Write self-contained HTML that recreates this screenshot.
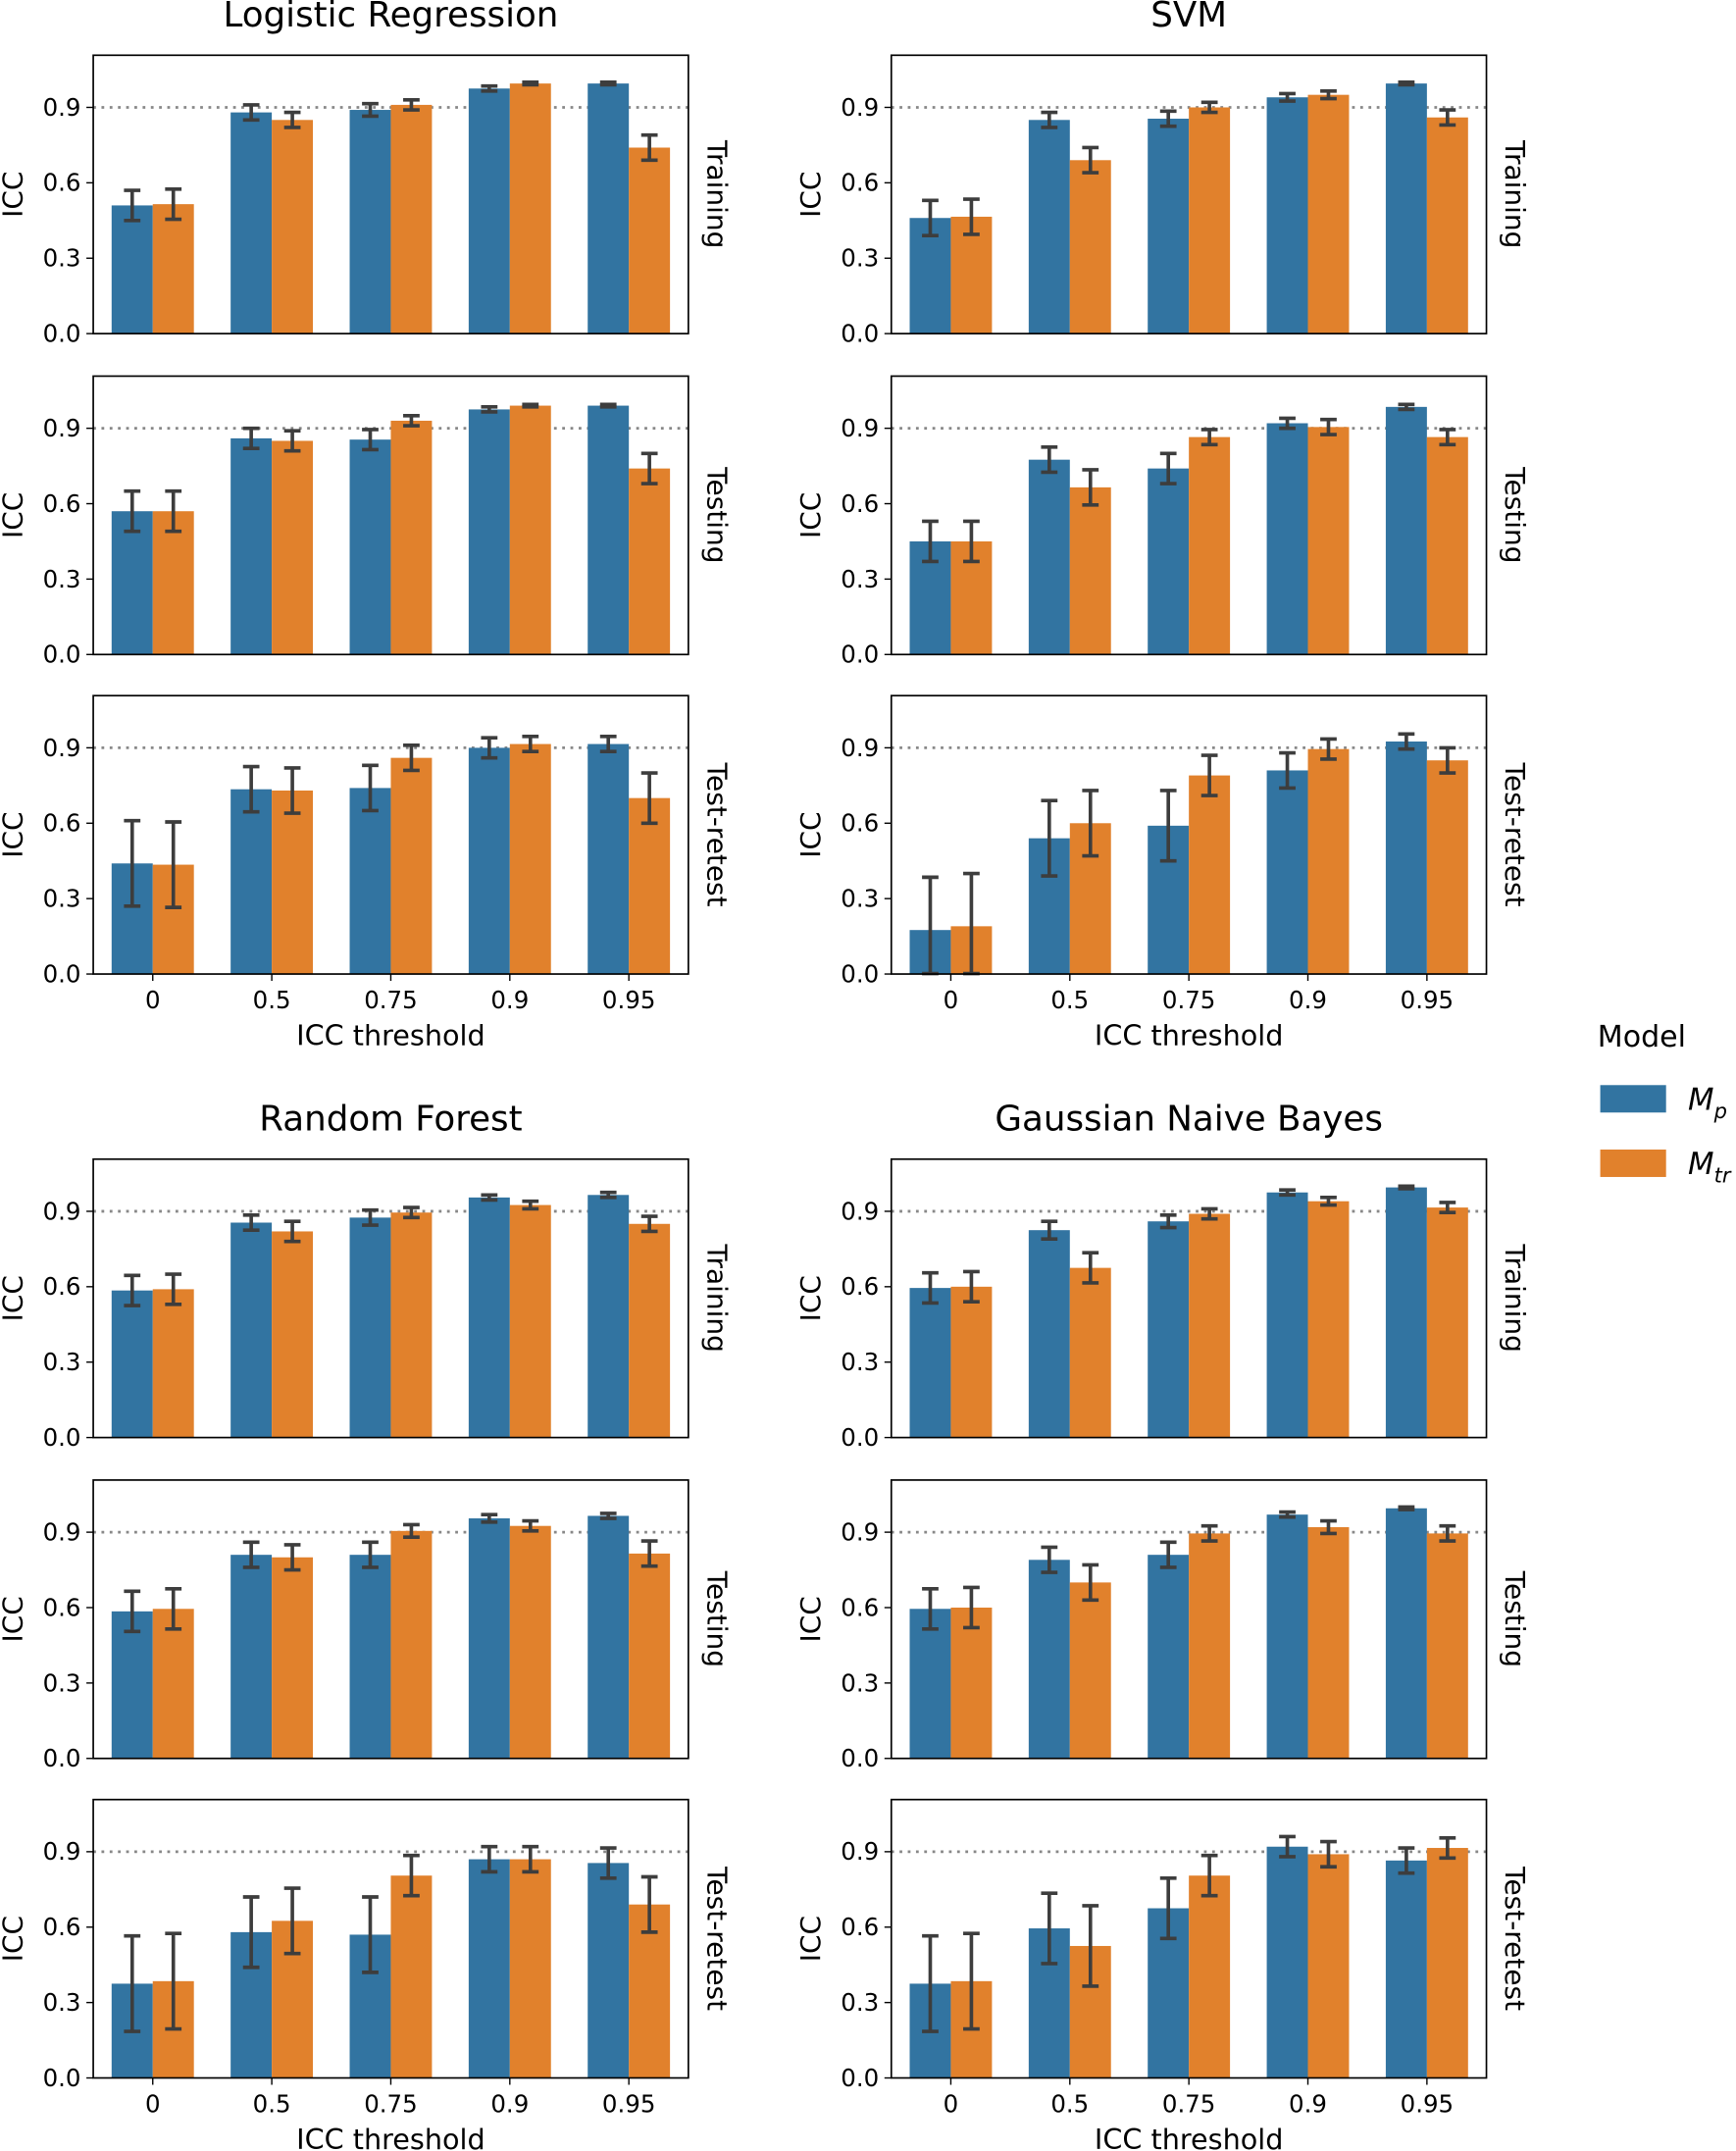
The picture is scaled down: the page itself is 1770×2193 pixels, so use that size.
<!DOCTYPE html>
<html><head><meta charset="utf-8"><style>
html,body{margin:0;padding:0;background:#fff}
svg{display:block}
text{font-family:"DejaVu Sans","Liberation Sans",sans-serif;fill:#000}
</style></head><body>
<svg id="s" width="1770" height="2193" viewBox="0 0 1266 1568" xmlns="http://www.w3.org/2000/svg">
<text x="285" y="19" font-size="25.5" text-anchor="middle">Logistic Regression</text>
<text x="867" y="19" font-size="25.5" text-anchor="middle">SVM</text>
<text x="285" y="824" font-size="25.5" text-anchor="middle">Random Forest</text>
<text x="867" y="824" font-size="25.5" text-anchor="middle">Gaussian Naive Bayes</text>
<text x="285" y="762" font-size="20.5" text-anchor="middle">ICC threshold</text>
<text x="867" y="762" font-size="20.5" text-anchor="middle">ICC threshold</text>
<text x="285" y="1567" font-size="20.5" text-anchor="middle">ICC threshold</text>
<text x="867" y="1567" font-size="20.5" text-anchor="middle">ICC threshold</text>
<text x="1165" y="763" font-size="21.5">Model</text>
<rect x="1167" y="791" width="48" height="20" fill="#3274a1"/>
<rect x="1167" y="838" width="48" height="20" fill="#e1812c"/>
<text x="1231" y="809" font-size="22" font-style="italic">M<tspan font-size="15" dy="6">p</tspan></text>
<text x="1231" y="856" font-size="22" font-style="italic">M<tspan font-size="15" dy="6">tr</tspan></text>
</svg>
<script>
const S=document.getElementById('s'),NS='http://www.w3.org/2000/svg';
function el(t,a,txt){const e=document.createElementNS(NS,t);for(const k in a)e.setAttribute(k,a[k]);if(txt!==undefined)e.textContent=txt;S.appendChild(e);return e;}
const D=[
[68,40,'Training',[.51,.88,.89,.975,.995],[.515,.85,.91,.995,.74],[.06,.03,.025,.01,.005],[.06,.03,.02,.005,.05]],
[68,274,'Testing',[.57,.86,.855,.975,.99],[.57,.85,.93,.99,.74],[.08,.04,.04,.01,.005],[.08,.04,.02,.005,.06]],
[68,507,'Test-retest',[.44,.735,.74,.90,.915],[.435,.73,.86,.915,.70],[.17,.09,.09,.04,.03],[.17,.09,.05,.03,.1]],
[650,40,'Training',[.46,.85,.855,.94,.995],[.465,.69,.90,.95,.86],[.07,.03,.03,.015,.005],[.07,.05,.02,.015,.03]],
[650,274,'Testing',[.45,.775,.74,.92,.985],[.45,.665,.865,.905,.865],[.08,.05,.06,.02,.01],[.08,.07,.03,.03,.03]],
[650,507,'Test-retest',[.175,.54,.59,.81,.925],[.19,.60,.79,.895,.85],[.21,.15,.14,.07,.03],[.21,.13,.08,.04,.05]],
[68,845,'Training',[.585,.855,.875,.955,.965],[.59,.82,.895,.925,.85],[.06,.03,.03,.01,.01],[.06,.04,.02,.015,.03]],
[68,1079,'Testing',[.585,.81,.81,.955,.965],[.595,.80,.905,.925,.815],[.08,.05,.05,.015,.01],[.08,.05,.025,.02,.05]],
[68,1312,'Test-retest',[.375,.58,.57,.87,.855],[.385,.625,.805,.87,.69],[.19,.14,.15,.05,.06],[.19,.13,.08,.05,.11]],
[650,845,'Training',[.595,.825,.86,.975,.995],[.60,.675,.89,.94,.915],[.06,.035,.025,.01,.005],[.06,.06,.02,.015,.02]],
[650,1079,'Testing',[.595,.79,.81,.97,.995],[.60,.70,.895,.92,.895],[.08,.05,.05,.01,.005],[.08,.07,.03,.025,.03]],
[650,1312,'Test-retest',[.375,.595,.675,.92,.865],[.385,.525,.805,.89,.915],[.19,.14,.12,.04,.05],[.19,.16,.08,.05,.04]]];
const W=434,H=203,K=183.3,xl=['0','0.5','0.75','0.9','0.95'];
D.forEach((p,i)=>{const [x0,y0,lab,a,b,ea,eb]=p;const yb=y0+H;const Y=v=>yb-v*K;
 el('line',{x1:x0,x2:x0+W,y1:Y(.9),y2:Y(.9),stroke:'#888','stroke-width':2,'stroke-dasharray':'2,4'});
 for(let j=0;j<5;j++){const c=x0+W/10+j*W/5;
  [[a,ea,'#3274a1',c-30],[b,eb,'#e1812c',c]].forEach(([v,e,col,bx])=>{
   el('rect',{x:bx,y:Y(v[j]),width:30,height:v[j]*K,fill:col});
   const m=bx+15,t=Y(Math.min(v[j]+e[j],1.07)),bo=Y(Math.max(v[j]-e[j],0.002));
   el('line',{x1:m,x2:m,y1:t,y2:bo,stroke:'#3d3d3d','stroke-width':2.6});
   el('line',{x1:m-6,x2:m+6,y1:t,y2:t,stroke:'#3d3d3d','stroke-width':2.6});
   el('line',{x1:m-6,x2:m+6,y1:bo,y2:bo,stroke:'#3d3d3d','stroke-width':2.6});});
  if(i%3==2){el('line',{x1:c,x2:c,y1:yb,y2:yb+5,stroke:'#000','stroke-width':1});
   el('text',{x:c,y:yb+25,'font-size':17.5,'text-anchor':'middle'},xl[j]);}}
 el('rect',{x:x0,y:y0,width:W,height:H,fill:'none',stroke:'#000','stroke-width':1.2});
 ['0.0','0.3','0.6','0.9'].forEach((t,k)=>{const yy=Y(k*.3);
  el('line',{x1:x0-5,x2:x0,y1:yy,y2:yy,stroke:'#000','stroke-width':1});
  el('text',{x:x0-9,y:yy+6,'font-size':17.5,'text-anchor':'end'},t);});
 const cy=y0+H/2,lx=x0-52;
 el('text',{x:lx,y:cy,'font-size':20,'text-anchor':'middle',transform:`rotate(-90 ${lx} ${cy})`},'ICC');
 const rx=x0+W+14;
 el('text',{x:rx,y:cy,'font-size':20,'text-anchor':'middle',transform:`rotate(90 ${rx} ${cy})`},lab);
});
</script>
</body></html>
